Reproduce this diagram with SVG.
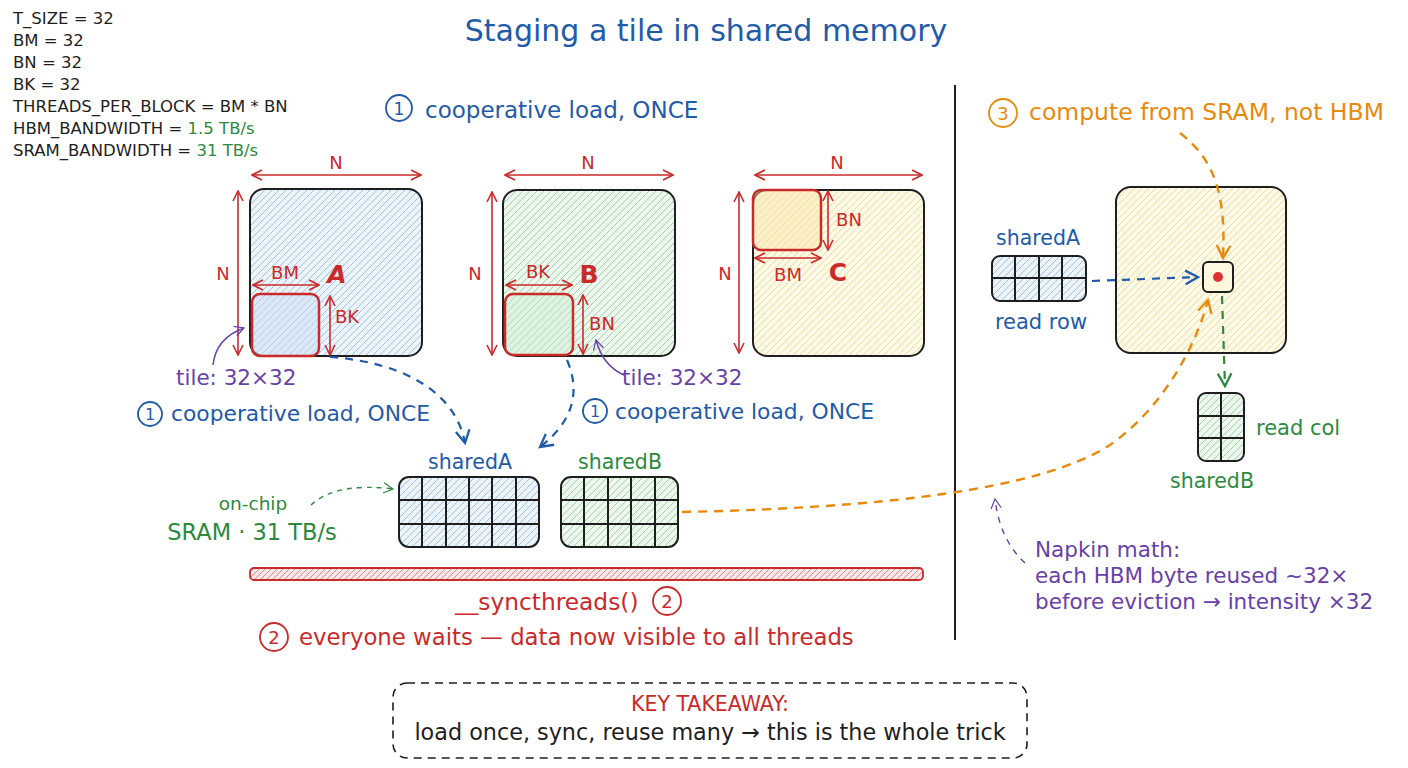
<svg xmlns="http://www.w3.org/2000/svg" width="1408" height="768" viewBox="0 0 1408 768">
<style>
text{font-family:"DejaVu Sans","Liberation Sans",sans-serif}
.k{fill:#1e1e1e}.bl{fill:#1e5ba8}.rd{fill:#c92a2a}.gr{fill:#2b8a3e}.pu{fill:#6741a8}.or{fill:#e8890c}
.box{stroke:#1e1e1e;stroke-width:2}
.tile{fill:none;stroke:#c92a2a;stroke-width:2.5}
.dim{stroke:#c92a2a;stroke-width:1.6;fill:none;marker-start:url(#mr);marker-end:url(#mr)}
.gl{stroke:#1e1e1e;stroke-width:2;fill:none}
.cb{fill:none;stroke:#1e5ba8;stroke-width:1.8}
.cr{fill:none;stroke:#c92a2a;stroke-width:1.8}
.co{fill:none;stroke:#e8890c;stroke-width:1.8}
.m{text-anchor:middle}
</style>
<defs>
<pattern id="hA" patternUnits="userSpaceOnUse" width="7" height="7"><rect width="7" height="7" fill="#edf3fb"/><path d="M-1,1 l2,-2 M0,7 l7,-7 M6,8 l2,-2" stroke="#9fc3ea" stroke-width="1"/></pattern>
<pattern id="hB" patternUnits="userSpaceOnUse" width="7" height="7"><rect width="7" height="7" fill="#edf7ee"/><path d="M-1,1 l2,-2 M0,7 l7,-7 M6,8 l2,-2" stroke="#9fd6a8" stroke-width="1"/></pattern>
<pattern id="hC" patternUnits="userSpaceOnUse" width="7" height="7"><rect width="7" height="7" fill="#fffaea"/><path d="M-1,1 l2,-2 M0,7 l7,-7 M6,8 l2,-2" stroke="#f5dc92" stroke-width="1"/></pattern>
<pattern id="hR" patternUnits="userSpaceOnUse" width="6" height="6"><rect width="6" height="6" fill="#fbe7e7"/><path d="M-1,1 l2,-2 M0,6 l6,-6 M5,7 l2,-2" stroke="#e88a8a" stroke-width="1"/></pattern>
<marker id="mr" viewBox="0 0 12 12" refX="11" refY="6" markerWidth="12" markerHeight="12" markerUnits="userSpaceOnUse" orient="auto-start-reverse"><path d="M1,1 L11,6 L1,11" fill="none" stroke="#c92a2a" stroke-width="1.6"/></marker>
<marker id="mb" viewBox="0 0 14 14" refX="12" refY="7" markerWidth="16" markerHeight="16" markerUnits="userSpaceOnUse" orient="auto"><path d="M1,1 L12,7 L1,13" fill="none" stroke="#1e5ba8" stroke-width="2"/></marker>
<marker id="mg" viewBox="0 0 14 14" refX="12" refY="7" markerWidth="16" markerHeight="16" markerUnits="userSpaceOnUse" orient="auto"><path d="M1,1 L12,7 L1,13" fill="none" stroke="#2b8a3e" stroke-width="2"/></marker>
<marker id="mg2" viewBox="0 0 14 14" refX="12" refY="7" markerWidth="12" markerHeight="12" markerUnits="userSpaceOnUse" orient="auto"><path d="M1,1 L12,7 L1,13" fill="none" stroke="#2b8a3e" stroke-width="1.4"/></marker>
<marker id="mo" viewBox="0 0 14 14" refX="12" refY="7" markerWidth="16" markerHeight="16" markerUnits="userSpaceOnUse" orient="auto"><path d="M1,1 L12,7 L1,13" fill="none" stroke="#e8890c" stroke-width="2"/></marker>
<marker id="mp" viewBox="0 0 14 14" refX="12" refY="7" markerWidth="12" markerHeight="12" markerUnits="userSpaceOnUse" orient="auto"><path d="M1,1 L12,7 L1,13" fill="none" stroke="#6741a8" stroke-width="1.4"/></marker>
</defs>
<rect width="1408" height="768" fill="#ffffff"/>

<g id="constants" font-size="16.5" class="k">
<text x="13" y="24" class="k">T_SIZE = 32</text>
<text x="13" y="46" class="k">BM = 32</text>
<text x="13" y="68" class="k">BN = 32</text>
<text x="13" y="90" class="k">BK = 32</text>
<text x="13" y="112" class="k">THREADS_PER_BLOCK = BM * BN</text>
<text x="13" y="134" class="k">HBM_BANDWIDTH = <tspan class="gr">1.5 TB/s</tspan></text>
<text x="13" y="156" class="k">SRAM_BANDWIDTH = <tspan class="gr">31 TB/s</tspan></text>
</g>

<g id="title"><text x="706" y="41" class="bl m" font-size="30">Staging a tile in shared memory</text></g>

<g id="step1-top">
<circle cx="399" cy="108" r="13" class="cb"/><text x="399" y="114.5" class="bl m" font-size="17">1</text>
<text x="425" y="118" class="bl" font-size="23">cooperative load, ONCE</text>
</g>

<g id="matrixA">
<rect x="250" y="189" width="172" height="167" rx="14" fill="url(#hA)" class="box"/>
<rect x="252" y="294" width="67" height="62" rx="8" fill="#c7dbf2" opacity="0.45"/>
<rect x="252" y="294" width="67" height="62" rx="8" class="tile"/>
<path d="M252,175 L421,175" class="dim"/>
<path d="M238,191 L238,355" class="dim"/>
<path d="M253,285 L319,285" class="dim"/>
<path d="M330,296 L330,355" class="dim"/>
<text x="336" y="169" class="rd m" font-size="18">N</text>
<text x="223" y="280" class="rd m" font-size="18">N</text>
<text x="285" y="279" class="rd m" font-size="18">BM</text>
<text x="337" y="283" class="rd m" font-size="25" font-weight="bold" font-style="italic">A</text>
<text x="347" y="323" class="rd m" font-size="18">BK</text>
<text x="176" y="385" class="pu" font-size="21.5">tile: 32×32</text>
</g>

<g id="matrixB">
<rect x="503" y="190" width="172" height="166" rx="14" fill="url(#hB)" class="box"/>
<rect x="505" y="294" width="68" height="61" rx="8" fill="#c9ebce" opacity="0.45"/>
<rect x="505" y="294" width="68" height="61" rx="8" class="tile"/>
<path d="M505,175 L673,175" class="dim"/>
<path d="M492,192 L492,355" class="dim"/>
<path d="M506,285 L572,285" class="dim"/>
<path d="M583,295 L583,354" class="dim"/>
<text x="588" y="169" class="rd m" font-size="18">N</text>
<text x="475" y="280" class="rd m" font-size="18">N</text>
<text x="538" y="278" class="rd m" font-size="18">BK</text>
<text x="589" y="283" class="rd m" font-size="25" font-weight="bold">B</text>
<text x="602" y="330" class="rd m" font-size="18">BN</text>
<text x="622" y="385" class="pu" font-size="21.5">tile: 32×32</text>
</g>

<g id="matrixC">
<rect x="753" y="190" width="171" height="166" rx="14" fill="url(#hC)" class="box"/>
<rect x="753" y="190" width="68" height="60" rx="8" fill="#fbe3a0" opacity="0.45"/>
<rect x="753" y="190" width="68" height="60" rx="8" class="tile"/>
<path d="M755,175 L922,175" class="dim"/>
<path d="M739,192 L739,353" class="dim"/>
<path d="M828,191 L828,250" class="dim"/>
<path d="M755,258 L821,258" class="dim"/>
<text x="837" y="169" class="rd m" font-size="18">N</text>
<text x="725" y="280" class="rd m" font-size="18">N</text>
<text x="849" y="226" class="rd m" font-size="18">BN</text>
<text x="788" y="281" class="rd m" font-size="18">BM</text>
<text x="838" y="281" class="rd m" font-size="25" font-weight="bold">C</text>
</g>

<g id="step1-A">
<circle cx="150" cy="414" r="12" class="cb"/><text x="150" y="420" class="bl m" font-size="16">1</text>
<text x="171" y="421" class="bl" font-size="21.8">cooperative load, ONCE</text>
</g>
<g id="step1-B">
<circle cx="595" cy="411" r="12" class="cb"/><text x="595" y="417" class="bl m" font-size="16">1</text>
<text x="615" y="419" class="bl" font-size="21.8">cooperative load, ONCE</text>
</g>

<g id="sharedA">
<text x="470" y="469" class="bl m" font-size="20.5">sharedA</text>
<rect x="399" y="477" width="140" height="70" rx="10" fill="url(#hA)"/>
<path d="M422,477 V547 M446,477 V547 M469,477 V547 M492,477 V547 M516,477 V547 M399,500 H539 M399,524 H539" class="gl"/>
<rect x="399" y="477" width="140" height="70" rx="10" class="gl"/>
</g>
<g id="sharedB">
<text x="620" y="469" class="gr m" font-size="20.5">sharedB</text>
<rect x="561" y="477" width="117" height="70" rx="10" fill="url(#hB)"/>
<path d="M584,477 V547 M608,477 V547 M631,477 V547 M655,477 V547 M561,500 H678 M561,524 H678" class="gl"/>
<rect x="561" y="477" width="117" height="70" rx="10" class="gl"/>
</g>
<g id="onchip">
<text x="253" y="510" class="gr m" font-size="18.5">on-chip</text>
<text x="252" y="540" class="gr m" font-size="22.5">SRAM · 31 TB/s</text>
</g>

<g id="sync">
<rect x="250" y="568" width="673" height="12" rx="4" fill="url(#hR)" stroke="#c92a2a" stroke-width="1.8"/>
<text x="455" y="610" class="rd" font-size="23.3">__syncthreads()</text>
<circle cx="667" cy="601" r="14" class="cr"/><text x="667" y="607.5" class="rd m" font-size="18">2</text>
<circle cx="274" cy="637" r="14" class="cr"/><text x="274" y="643.5" class="rd m" font-size="18">2</text>
<text x="299" y="645" class="rd" font-size="22.8">everyone waits — data now visible to all threads</text>
</g>

<g id="divider"><path d="M955,85 V640" stroke="#1e1e1e" stroke-width="2"/></g>

<g id="step3">
<circle cx="1003" cy="113" r="14" class="co"/><text x="1003" y="119.5" class="or m" font-size="18">3</text>
<text x="1029" y="120" class="or" font-size="23.5">compute from SRAM, not HBM</text>
</g>

<g id="outC">
<rect x="1116" y="187" width="170" height="166" rx="15" fill="url(#hC)" class="box"/>
</g>
<g id="cell">
<rect x="1203" y="262" width="30" height="30" rx="5" fill="#fff8df" class="box"/>
<circle cx="1218" cy="277" r="5" fill="#e03131"/>
</g>

<g id="rowA">
<text x="1038" y="245" class="bl m" font-size="20.5">sharedA</text>
<rect x="992" y="256" width="94" height="45" rx="8" fill="url(#hA)"/>
<path d="M1015,256 V301 M1039,256 V301 M1062,256 V301 M992,278 H1086" class="gl"/>
<rect x="992" y="256" width="94" height="45" rx="8" class="gl"/>
<text x="1041" y="329" class="bl m" font-size="21">read row</text>
</g>

<g id="colB">
<rect x="1198" y="393" width="46" height="68" rx="8" fill="url(#hB)"/>
<path d="M1221,393 V461 M1198,416 H1244 M1198,438 H1244" class="gl"/>
<rect x="1198" y="393" width="46" height="68" rx="8" class="gl"/>
<text x="1256" y="435" class="gr" font-size="21">read col</text>
<text x="1212" y="488" class="gr m" font-size="20.5">sharedB</text>
</g>

<g id="napkin">
<text x="1035" y="557" class="pu" font-size="21.5">Napkin math:</text>
<text x="1035" y="583" class="pu" font-size="21.5">each HBM byte reused ~32×</text>
<text x="1035" y="609" class="pu" font-size="21.5">before eviction → intensity ×32</text>
</g>

<g id="takeaway">
<rect x="393" y="683" width="634" height="75" rx="14" fill="none" stroke="#1e1e1e" stroke-width="1.6" stroke-dasharray="8 6"/>
<text x="710" y="711" class="rd m" font-size="20.5">KEY TAKEAWAY:</text>
<text x="710" y="740" class="k m" font-size="22.3">load once, sync, reuse many → this is the whole trick</text>
</g>

<g id="connectors" fill="none">
<path d="M213,365 Q216,338 244,328" stroke="#6741a8" stroke-width="1.5" marker-end="url(#mp)"/>
<path d="M624,375 Q603,366 596,340" stroke="#6741a8" stroke-width="1.5" marker-end="url(#mp)"/>
<path d="M330,357 C400,362 455,390 465,443" stroke="#1e5ba8" stroke-width="2.2" stroke-dasharray="8 7" marker-end="url(#mb)"/>
<path d="M567,360 C580,390 575,420 540,447" stroke="#1e5ba8" stroke-width="2.2" stroke-dasharray="8 7" marker-end="url(#mb)"/>
<path d="M311,505 Q336,482 393,489" stroke="#2b8a3e" stroke-width="1.4" stroke-dasharray="5 5" marker-end="url(#mg2)"/>
<path d="M682,512 C880,508 1040,490 1110,445 C1160,410 1195,350 1208,300" stroke="#e8890c" stroke-width="2.4" stroke-dasharray="9 7" marker-end="url(#mo)"/>
<path d="M1180,133 C1215,160 1226,195 1223,258" stroke="#e8890c" stroke-width="2.4" stroke-dasharray="9 7" marker-end="url(#mo)"/>
<path d="M1092,281 L1198,277" stroke="#1e5ba8" stroke-width="2.2" stroke-dasharray="8 7" marker-end="url(#mb)"/>
<path d="M1222,296 L1225,386" stroke="#2b8a3e" stroke-width="2.2" stroke-dasharray="8 7" marker-end="url(#mg)"/>
<path d="M1025,563 Q1000,540 995,499" stroke="#6741a8" stroke-width="1.4" stroke-dasharray="6 6" marker-end="url(#mp)"/>
</g>
</svg>
